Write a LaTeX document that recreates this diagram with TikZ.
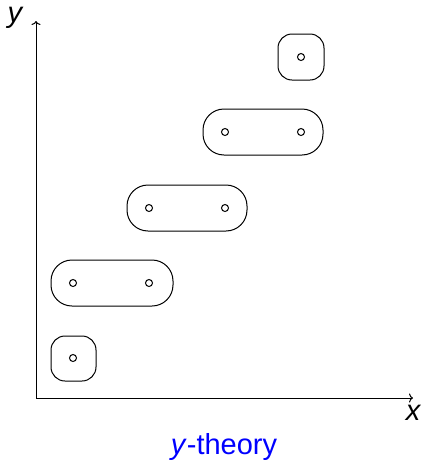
\documentclass[tikz,border=0pt]{standalone}
\usepackage{fontspec}
\setmainfont{Liberation Sans}
\usetikzlibrary{arrows.meta}
\begin{document}
\begin{tikzpicture}[x=1pt,y=-1pt,line width=1pt,
  dot/.style={circle,draw,inner sep=0pt,minimum size=7pt},
  pairbox/.style={draw,rounded corners=21pt},
  onebox/.style={draw,rounded corners=14pt},
  axis/.style={-{To[length=4pt,width=9pt]}},
  lbl/.style={font=\fontsize{29}{34}\selectfont\itshape,inner sep=0pt}]
\useasboundingbox (0,0) rectangle (423,464);
% axes
\coordinate (O) at (36,398);
\coordinate (xend) at (413,398);
\coordinate (yend) at (36,21);
\draw[axis] (O) -- (xend);
\draw[axis] (O) -- (yend);
\node[lbl] (ylab) at (15,18) {y};
\node[lbl] (xlab) at (413,413) {x};
% points
\node[dot] (p1) at (73,358) {};
\node[dot] (p2) at (73,283) {};
\node[dot] (p3) at (149,283) {};
\node[dot] (p4) at (149,208) {};
\node[dot] (p5) at (225,208) {};
\node[dot] (p6) at (225,132) {};
\node[dot] (p7) at (301,132) {};
\node[dot] (p8) at (301,57) {};
% groups
\draw[onebox] (51,336) rectangle (96,381);
\draw[pairbox] (51,260) rectangle (173,306);
\draw[pairbox] (127,185) rectangle (247,231);
\draw[pairbox] (203,109) rectangle (323,155);
\draw[onebox] (278,34) rectangle (324,80);
% caption
\node[inner sep=0pt,text=blue,font=\fontsize{29}{34}\selectfont] (cap) at (224,447) {\textit{y}-theory};
\end{tikzpicture}
\end{document}
